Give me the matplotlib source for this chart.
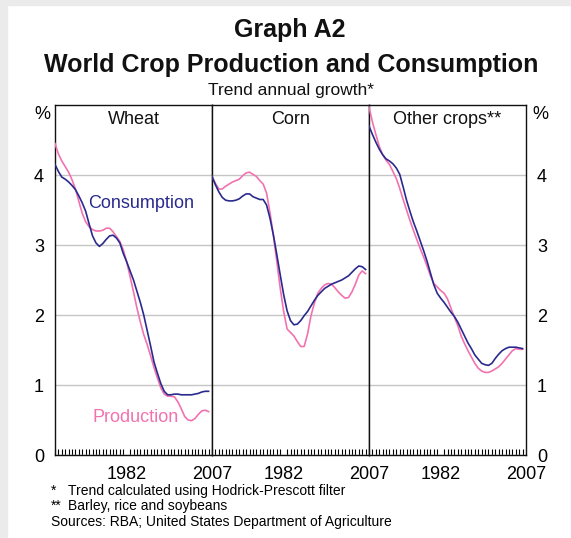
import numpy as np
import matplotlib
matplotlib.use('Agg')
import matplotlib.pyplot as plt
from matplotlib.patches import Rectangle
from matplotlib.ticker import MultipleLocator, FixedLocator

plt.rcParams.update({
    'font.family': ['Liberation Sans', 'DejaVu Sans'],
    'font.size': 13,
})

# data: trend annual growth, per cent
years = list(range(1961, 2007))

wheat_cons = [4.15, 4.05, 3.97, 3.94, 3.90, 3.85, 3.79, 3.70, 3.60, 3.48,
              3.30, 3.13, 3.03, 2.98, 3.02, 3.08, 3.13, 3.14, 3.10, 3.03,
              2.88, 2.76, 2.63, 2.50, 2.34, 2.18, 2.00, 1.78, 1.56, 1.33,
              1.17, 1.02, 0.91, 0.86, 0.86, 0.87, 0.87, 0.86, 0.86, 0.86,
              0.86, 0.87, 0.88, 0.90, 0.91, 0.91]
wheat_prod = [4.45, 4.30, 4.20, 4.12, 4.04, 3.93, 3.80, 3.62, 3.45, 3.33,
              3.26, 3.22, 3.20, 3.20, 3.21, 3.24, 3.24, 3.19, 3.12, 3.05,
              2.93, 2.76, 2.55, 2.33, 2.10, 1.90, 1.72, 1.58, 1.42, 1.25,
              1.10, 0.96, 0.87, 0.84, 0.84, 0.83, 0.76, 0.66, 0.55, 0.50,
              0.49, 0.52, 0.58, 0.63, 0.64, 0.62]

corn_cons = [3.98, 3.86, 3.76, 3.68, 3.64, 3.63, 3.63, 3.64, 3.66, 3.70,
             3.73, 3.73, 3.69, 3.67, 3.65, 3.65, 3.57, 3.38, 3.14, 2.86,
             2.57, 2.29, 2.06, 1.92, 1.86, 1.87, 1.92, 1.99, 2.05, 2.13,
             2.21, 2.28, 2.33, 2.38, 2.41, 2.44, 2.46, 2.48, 2.50, 2.53,
             2.56, 2.61, 2.66, 2.70, 2.69, 2.65]
corn_prod = [3.98, 3.88, 3.80, 3.80, 3.84, 3.87, 3.90, 3.92, 3.94, 3.99,
             4.03, 4.04, 4.01, 3.98, 3.92, 3.87, 3.74, 3.46, 3.13, 2.76,
             2.38, 2.05, 1.80, 1.75, 1.70, 1.62, 1.55, 1.55, 1.73, 1.99,
             2.17, 2.31, 2.38, 2.43, 2.45, 2.44, 2.39, 2.33, 2.28, 2.24,
             2.25, 2.33, 2.44, 2.57, 2.63, 2.59]

other_cons = [4.70, 4.58, 4.47, 4.37, 4.29, 4.23, 4.20, 4.16, 4.10, 4.01,
              3.83, 3.64, 3.48, 3.33, 3.20, 3.06, 2.92, 2.77, 2.60, 2.43,
              2.31, 2.24, 2.18, 2.11, 2.04, 1.98, 1.90, 1.80, 1.70, 1.60,
              1.52, 1.43, 1.37, 1.31, 1.29, 1.28, 1.31, 1.38, 1.44, 1.49,
              1.52, 1.54, 1.54, 1.54, 1.53, 1.52]
other_prod = [4.97, 4.76, 4.58, 4.41, 4.29, 4.21, 4.15, 4.05, 3.95, 3.81,
              3.65, 3.50, 3.35, 3.21, 3.08, 2.95, 2.83, 2.70, 2.56, 2.45,
              2.40, 2.35, 2.31, 2.23, 2.10, 1.97, 1.85, 1.70, 1.59, 1.49,
              1.40, 1.31, 1.24, 1.20, 1.18, 1.18, 1.20, 1.23, 1.26, 1.31,
              1.37, 1.43, 1.49, 1.52, 1.51, 1.51]

panel_titles = ['Wheat', 'Corn', 'Other crops**']
panel_data = [(wheat_cons, wheat_prod), (corn_cons, corn_prod), (other_cons, other_prod)]
year_labels = [1982, 2007]
y_ticks = [0, 1, 2, 3, 4]

BLUE = '#2a2a8e'
PINK = '#f272b0'
GRID = '#c6c6c6'

W, H = 571, 538
fig = plt.figure(figsize=(W / 100, H / 100), dpi=100)
fig.patch.set_facecolor('white')


def fx(x):
    return x / W


def fy(y):
    return 1 - y / H


# grey page margin
fig.patches.append(Rectangle((0, 0), fx(7), 1, transform=fig.transFigure,
                             color='#ebebeb', zorder=-10))
fig.patches.append(Rectangle((0, fy(5)), 1, fy(0) - fy(5), transform=fig.transFigure,
                             color='#ebebeb', zorder=-10))

# titles
fig.text(fx(290), fy(30), 'Graph A2', ha='center', va='center',
         fontsize=18, fontweight='bold', color='#111111')
fig.text(fx(291), fy(65), 'World Crop Production and Consumption', ha='center',
         va='center', fontsize=18, fontweight='bold', color='#111111')
fig.text(fx(291), fy(90), 'Trend annual growth*', ha='center', va='center',
         fontsize=12.5, color='#111111')

left, top, pw, ph = 55, 105, 157, 350
axes = []
for i in range(3):
    x0 = left + i * pw
    ax = fig.add_axes([fx(x0), fy(top + ph), fx(pw), ph / H])
    cons, prod = panel_data[i]
    ax.plot(years, prod, color=PINK, lw=1.2, zorder=3)
    ax.plot(years, cons, color=BLUE, lw=1.2, zorder=4)
    ax.set_xlim(1961, 2007)
    ax.set_ylim(0, 5)
    ax.set_yticks(y_ticks)
    ax.yaxis.grid(True, color=GRID, lw=1)
    ax.set_axisbelow(True)
    ax.xaxis.set_major_locator(FixedLocator(year_labels))
    ax.xaxis.set_minor_locator(MultipleLocator(1))
    ax.tick_params(axis='x', which='major', length=0, pad=8, labelsize=13)
    ax.tick_params(axis='x', which='minor', length=4, direction='in', width=0.8)
    ax.tick_params(axis='y', length=0, labelsize=13, pad=8)
    if i == 0:
        ax.tick_params(axis='y', labelleft=True, labelright=False)
    elif i == 2:
        ax.tick_params(axis='y', labelleft=False, labelright=True)
    else:
        ax.tick_params(axis='y', labelleft=False)
    for s in ax.spines.values():
        s.set_color('#111111')
        s.set_linewidth(1)
    ax.text(0.5, 4.8, panel_titles[i], transform=ax.get_yaxis_transform(),
            ha='center', va='center', fontsize=13, color='#111111')
    axes.append(ax)

axes[0].text(-0.083, 4.86, '%', transform=axes[0].get_yaxis_transform(),
             ha='center', va='center', fontsize=13)
axes[2].text(1.089, 4.86, '%', transform=axes[2].get_yaxis_transform(),
             ha='center', va='center', fontsize=13)

axes[0].text(1970.7, 3.59, 'Consumption', color=BLUE, ha='left', va='center', fontsize=13)
axes[0].text(1972.1, 0.53, 'Production', color=PINK, ha='left', va='center', fontsize=13)

# footnotes
fs = 10
fig.text(fx(51), fy(491), '*', ha='left', va='center', fontsize=fs)
fig.text(fx(68), fy(491), 'Trend calculated using Hodrick-Prescott filter',
         ha='left', va='center', fontsize=fs)
fig.text(fx(51), fy(506), '**', ha='left', va='center', fontsize=fs)
fig.text(fx(68), fy(506), 'Barley, rice and soybeans', ha='left', va='center', fontsize=fs)
fig.text(fx(51), fy(522), 'Sources: RBA; United States Department of Agriculture',
         ha='left', va='center', fontsize=fs)

fig.savefig('out.png', dpi=100, facecolor='white')
